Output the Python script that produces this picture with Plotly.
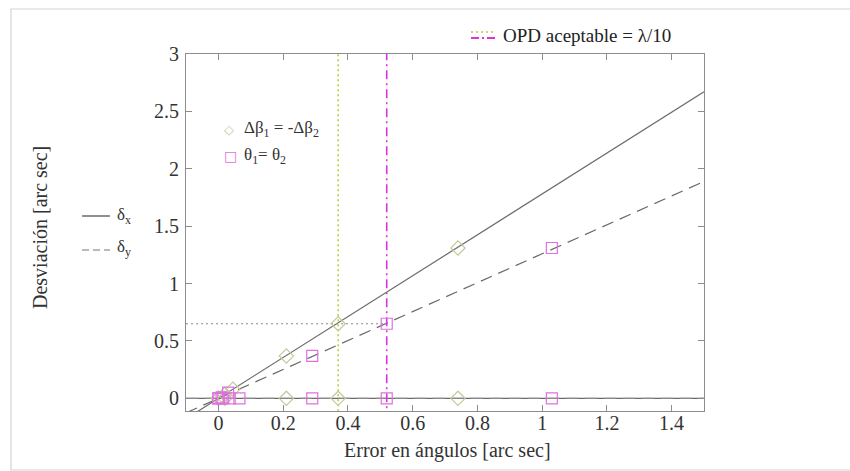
import plotly.graph_objects as go

# Linear fits of the angular deviation versus the angular error
x_range = [-0.1, 1.5]
slope_dx = 1.78   # δx
slope_dy = 1.26   # δy

# Δβ1 = -Δβ2 case (diamonds)
err_beta = [0.0, 0.02, 0.045, 0.21, 0.37, 0.74]
dev_beta = [0.0, 0.035, 0.08, 0.37, 0.65, 1.31]
err_beta_zero = [0.0, 0.02, 0.21, 0.37, 0.74]
dev_beta_zero = [0.0, 0.0, 0.0, 0.0, 0.0]

# θ1 = θ2 case (squares)
err_theta = [0.0, 0.01, 0.03, 0.29, 0.52, 1.03]
dev_theta = [0.0, 0.01, 0.05, 0.37, 0.65, 1.31]
err_theta_zero = [0.0, 0.015, 0.035, 0.065, 0.29, 0.52, 1.03]
dev_theta_zero = [0.0, 0.0, 0.0, 0.0, 0.0, 0.0, 0.0]

# Acceptable OPD limits
opd_beta = 0.37
opd_theta = 0.52
opd_dev = 0.65

x_ticks = [0, 0.2, 0.4, 0.6, 0.8, 1, 1.2, 1.4]
y_ticks = [0, 0.5, 1, 1.5, 2, 2.5, 3]

FONT = "Liberation Serif"
OLIVE = "#c2c93a"
OLIVE_MK = "#c3c99a"
MAGENTA = "#e030e0"
MAGENTA_MK = "#e070e0"
LINE = "#6a6a6a"

W, H = 850, 471
L, R, T, B = 186, 146, 54, 60
PW, PH = W - L - R, H - T - B


def px(x):
    return (x - L) / PW


def py(y):
    return (H - B - y) / PH


fig = go.Figure()

# δx and δy lines
fig.add_trace(go.Scatter(x=x_range, y=[slope_dx * v for v in x_range], mode="lines",
                         line=dict(color=LINE, width=1.2), showlegend=False, hoverinfo="skip"))
fig.add_trace(go.Scatter(x=x_range, y=[slope_dy * v for v in x_range], mode="lines",
                         line=dict(color=LINE, width=1.2, dash="12px,7px"), showlegend=False,
                         hoverinfo="skip"))
# zero components
fig.add_trace(go.Scatter(x=x_range, y=[0, 0], mode="lines",
                         line=dict(color=LINE, width=1.2), showlegend=False, hoverinfo="skip"))
fig.add_trace(go.Scatter(x=x_range, y=[0, 0], mode="lines",
                         line=dict(color="#8a8a8a", width=1.2, dash="12px,7px"), showlegend=False,
                         hoverinfo="skip"))

# OPD guide lines
fig.add_trace(go.Scatter(x=[x_range[0], opd_theta], y=[opd_dev, opd_dev], mode="lines",
                         line=dict(color="#8a8a8a", width=1, dash="2px,3px"), showlegend=False,
                         hoverinfo="skip"))
fig.add_trace(go.Scatter(x=[opd_beta, opd_beta], y=[-0.2, 3.1], mode="lines",
                         line=dict(color=OLIVE, width=1.6, dash="2px,3px"), showlegend=False,
                         hoverinfo="skip"))
fig.add_trace(go.Scatter(x=[opd_theta, opd_theta], y=[-0.2, 3.1], mode="lines",
                         line=dict(color=MAGENTA, width=1.6, dash="9px,4px,2px,4px"),
                         showlegend=False, hoverinfo="skip"))

# markers
dia = dict(symbol="diamond-open", size=11, color=OLIVE_MK, line=dict(width=1.2, color=OLIVE_MK))
sq = dict(symbol="square-open", size=11, color=MAGENTA_MK, line=dict(width=1.2, color=MAGENTA_MK))
fig.add_trace(go.Scatter(x=err_beta, y=dev_beta, mode="markers", marker=dia, showlegend=False))
fig.add_trace(go.Scatter(x=err_beta_zero, y=dev_beta_zero, mode="markers", marker=dia,
                         showlegend=False))
fig.add_trace(go.Scatter(x=err_theta, y=dev_theta, mode="markers", marker=sq, showlegend=False))
fig.add_trace(go.Scatter(x=err_theta_zero, y=dev_theta_zero, mode="markers", marker=sq,
                         showlegend=False))

shapes = []
annotations = []

# outer frame
shapes.append(dict(type="rect", xref="paper", yref="paper", x0=px(11), x1=px(851),
                   y0=py(470), y1=py(9), line=dict(color="#d4d4d4", width=1.2)))

# δx / δy key
shapes.append(dict(type="line", xref="paper", yref="paper", x0=px(82), x1=px(110),
                   y0=py(216), y1=py(216), line=dict(color="#555", width=1.3)))
shapes.append(dict(type="line", xref="paper", yref="paper", x0=px(82), x1=px(110),
                   y0=py(250), y1=py(250), line=dict(color="#777", width=1.2, dash="7px,4px")))
annotations.append(dict(xref="paper", yref="paper", x=px(115), y=py(216), xanchor="left",
                        yanchor="middle", showarrow=False, text="δ<sub>x</sub>",
                        font=dict(family=FONT, size=17, color="#333")))
annotations.append(dict(xref="paper", yref="paper", x=px(115), y=py(248), xanchor="left",
                        yanchor="middle", showarrow=False, text="δ<sub>y</sub>",
                        font=dict(family=FONT, size=17, color="#333")))

# marker key
annotations.append(dict(xref="paper", yref="paper", x=px(222), y=py(129), xanchor="left",
                        yanchor="middle", showarrow=False, text="◇",
                        font=dict(family="DejaVu Sans", size=13, color=OLIVE_MK)))
annotations.append(dict(xref="paper", yref="paper", x=px(242), y=py(129), xanchor="left",
                        yanchor="middle", showarrow=False, text="Δβ<sub>1</sub> = -Δβ<sub>2</sub>",
                        font=dict(family=FONT, size=17, color="#333")))
annotations.append(dict(xref="paper", yref="paper", x=px(222), y=py(156), xanchor="left",
                        yanchor="middle", showarrow=False, text="□",
                        font=dict(family="DejaVu Sans", size=14, color=MAGENTA_MK)))
annotations.append(dict(xref="paper", yref="paper", x=px(242), y=py(156), xanchor="left",
                        yanchor="middle", showarrow=False, text="θ<sub>1</sub>= θ<sub>2</sub>",
                        font=dict(family=FONT, size=17, color="#333")))

# OPD key
shapes.append(dict(type="line", xref="paper", yref="paper", x0=px(471), x1=px(495),
                   y0=py(32), y1=py(32), line=dict(color=OLIVE, width=1.6, dash="2px,3px")))
shapes.append(dict(type="line", xref="paper", yref="paper", x0=px(471), x1=px(495),
                   y0=py(38), y1=py(38), line=dict(color=MAGENTA, width=1.8, dash="8px,3px,2px,3px")))
annotations.append(dict(xref="paper", yref="paper", x=px(501), y=py(36), xanchor="left",
                        yanchor="middle", showarrow=False, text="OPD aceptable = λ/10",
                        font=dict(family=FONT, size=19, color="#222")))

# axis titles
annotations.append(dict(xref="paper", yref="paper", x=px(447), y=py(450), xanchor="center",
                        yanchor="middle", showarrow=False, text="Error en ángulos [arc sec]",
                        font=dict(family=FONT, size=20, color="#333")))
annotations.append(dict(xref="paper", yref="paper", x=px(40), y=py(228), xanchor="center",
                        yanchor="middle", showarrow=False, text="Desviación [arc sec]",
                        textangle=-90, font=dict(family=FONT, size=20, color="#333")))

axis_common = dict(showgrid=False, zeroline=False, showline=True, linecolor="#8c8c8c",
                   linewidth=1.2, mirror="ticks", ticks="inside", ticklen=6, tickwidth=1,
                   tickcolor="#8c8c8c", tickfont=dict(family=FONT, size=20, color="#333"))

fig.update_layout(
    width=W, height=H,
    margin=dict(l=L, r=R, t=T, b=B),
    paper_bgcolor="white", plot_bgcolor="white",
    showlegend=False,
    xaxis=dict(range=x_range, tickvals=x_ticks, ticktext=[f"{v:g}" for v in x_ticks],
               ticklabelstandoff=-6, **axis_common),
    yaxis=dict(range=[-0.11, 3.0], tickvals=y_ticks, ticktext=[f"{v:g}" for v in y_ticks],
               ticklabelstandoff=2, **axis_common),
    shapes=shapes,
    annotations=annotations,
)

fig.write_html("out.html")
